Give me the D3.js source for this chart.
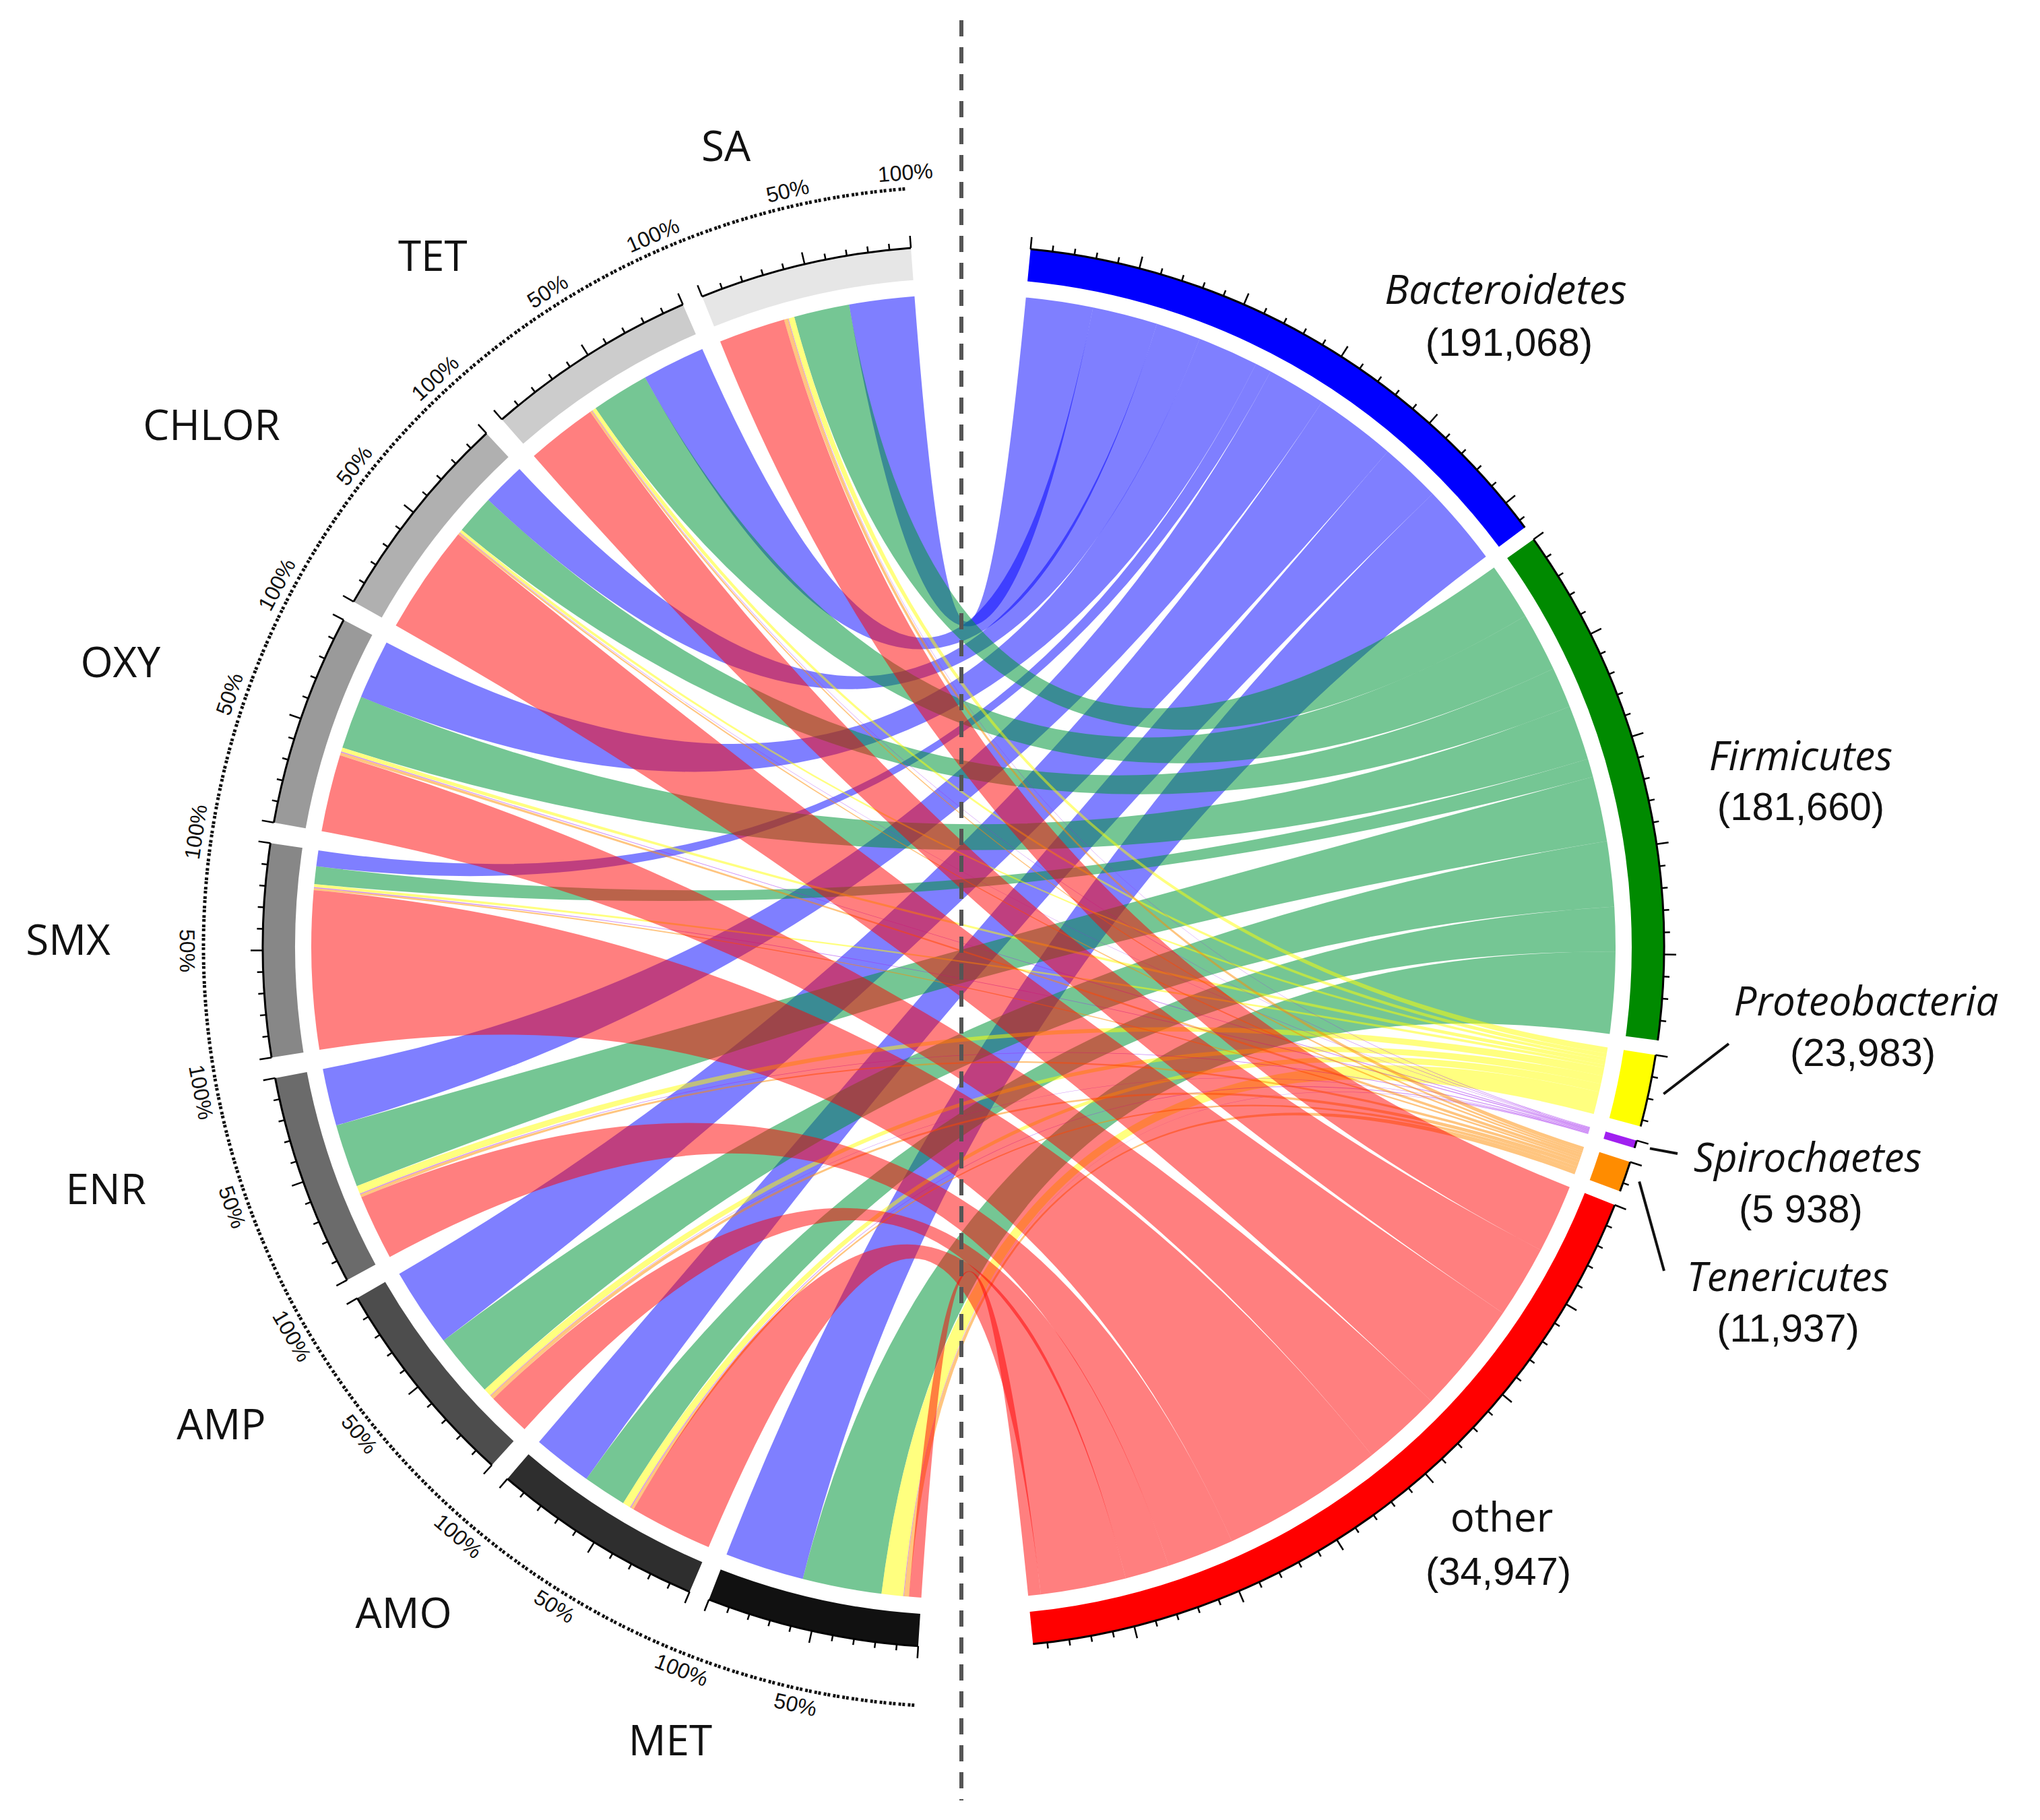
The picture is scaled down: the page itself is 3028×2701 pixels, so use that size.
<!DOCTYPE html>
<html>
<head>
<meta charset="utf-8">
<script src="https://cdn.jsdelivr.net/npm/d3@7"></script>
<style>
body {margin:0; background:#fff;}
</style>
</head>
<body>
<div id="chart"></div>
<script>
// antibiotic treatments (left half) and phyla (right half)
var antibiotics = ["SA", "TET", "CHLOR", "OXY", "SMX", "ENR", "AMP", "AMO", "MET"];
var phyla = ["Bacteroidetes", "Firmicutes", "Proteobacteria", "Spirochaetes", "Tenericutes", "other"];
var phylumCounts = ["191,068", "181,660", "23,983", "5 938", "11,937", "34,947"];
var pctLabels = ["50%", "100%"];

// share (%) of each treatment's reads per phylum, in the order of phyla
var pctSA    = [33, 28, 3,   0.3, 2,   33.7];
var pctTET   = [32, 29, 2,   0.3, 1,   35.7];
var pctCHLOR = [22, 20, 1.5, 0.3, 1,   55.2];
var pctOXY   = [30, 27, 2,   0.5, 1.5, 39];
var pctSMX   = [8,  9,  1.5, 0.5, 1,   80];
var pctENR   = [29, 32, 4,   0.5, 1.5, 33];
var pctAMP   = [40, 32, 4,   0.3, 2,   21.7];
var pctAMO   = [30, 22, 4,   0.5, 1.5, 42];
var pctMET   = [40, 40, 11,  0.3, 2.5, 6.2];

var matrix = [pctSA, pctTET, pctCHLOR, pctOXY, pctSMX, pctENR, pctAMP, pctAMO, pctMET];

// ---- layout ----
var W = 3028, H = 2701, cx = 1430, cy = 1405;
var R1 = 1040, R0 = 992, Rc = 968, Rdot = 1128, Rpct = 1152;
var rad = Math.PI / 180;
var leftStart = 183.7, leftEnd = 355.7, leftGap = 1.7;
var rightStart = 5.5, rightEnd = 174.3, rightGap = 1.2;

var grays = ["#e6e6e6", "#cccccc", "#b0b0b0", "#9a9a9a", "#878787", "#6b6b6b", "#4d4d4d", "#2e2e2e", "#111111"];
var bandColors = ["#0000ff", "#008a00", "#ffff00", "#a020f0", "#ff8c00", "#ff0000"];
var ribbonColors = ["#0000ff", "#00963a", "#ffff00", "#a020f0", "#ff8c00", "#ff0000"];
var ribbonAlpha = [0.5, 0.54, 0.5, 0.5, 0.5, 0.5];

// label placement (polar nudges for left names, anchors for right names)
var leftLabelPolar = [[-3.4,1241],[-5.1,1294],[-3.5,1359],[-0.3,1321],[0.8,1329],[3.9,1322],[6.2,1309],[8.3,1290],[7.8,1254]];
var phylumLabelAt = [
	{name:[2235,428],  count:[2240,507]},
	{name:[2673,1120], count:[2673,1196]},
	{name:[2770,1484], count:[2765,1561], leader:[2566,1549]},
	{name:[2683,1716], count:[2673,1793], leader:[2490,1712]},
	{name:[2654,1893], count:[2654,1970], leader:[2470,1886]},
	{name:[2229,2250], count:[2224,2331], upright:true}
];

function polar(deg, r) {
	return [cx + r*Math.sin(deg*rad), cy - r*Math.cos(deg*rad)];
}

// sector scales: left sectors equal (100%), laid clockwise MET..SA
var nA = antibiotics.length, nP = phyla.length;
var segLen = (leftEnd - leftStart - (nA-1)*leftGap) / nA;
var leftScale = antibiotics.map(function(a, i) {
	var k = nA - 1 - i;
	var a0 = leftStart + k*(segLen + leftGap);
	return d3.scaleLinear().domain([0, 100]).range([a0, a0 + segLen]);
});

var totals = phyla.map(function(p, j) { return d3.sum(matrix, function(row) {return row[j];}); });
var unit = (rightEnd - rightStart - (nP-1)*rightGap) / d3.sum(totals);
var rightScale = [], acc = 0;
for (var j = 0; j < nP; j++) {
	var a0 = rightStart + acc*unit + j*rightGap;
	rightScale.push(d3.scaleLinear().domain([0, totals[j]]).range([a0, a0 + totals[j]*unit]));
	acc += totals[j];
}

// links
var links = [];
for (var i = 0; i < nA; i++) {
	for (var j = 0; j < nP; j++) {
		var v = matrix[i][j];
		if (!v) continue;
		var offL = d3.sum(matrix[i].slice(j+1));
		var offR = 0;
		for (var m = 0; m < i; m++) offR += matrix[m][j];
		links.push({
			j: j,
			source: {startAngle: leftScale[i](offL)*rad, endAngle: leftScale[i](offL+v)*rad},
			target: {startAngle: rightScale[j](offR)*rad, endAngle: rightScale[j](offR+v)*rad}
		});
	}
}

var svg = d3.select("#chart").append("svg")
	.attr("width", W).attr("height", H)
	.style("font-family", "'Open Sans', sans-serif");
svg.append("rect").attr("width", W).attr("height", H).attr("fill", "#fff");

var g = svg.append("g").attr("transform", "translate(" + cx + "," + cy + ")");

// ribbons, drawn phylum by phylum
var ribbon = d3.ribbon().radius(Rc);
links.sort(function(a, b) {return a.j - b.j;});
g.append("g").selectAll("path").data(links).enter().append("path")
	.attr("d", ribbon)
	.attr("fill", function(d) {return ribbonColors[d.j];})
	.attr("fill-opacity", function(d) {return ribbonAlpha[d.j];});

// sector bands
var band = d3.arc().innerRadius(R0).outerRadius(R1);
var line = d3.arc().innerRadius(R1).outerRadius(R1);

function drawSector(scale, size, color) {
	var a0 = scale(0), a1 = scale(size);
	g.append("path").attr("d", band({startAngle: a0*rad, endAngle: a1*rad})).attr("fill", color);
	g.append("path").attr("d", line({startAngle: a0*rad, endAngle: a1*rad}))
		.attr("fill", "none").attr("stroke", "#000").attr("stroke-width", 3);
	var ticks = d3.range(0, size + 0.001, 10);
	g.append("g").selectAll("line").data(ticks).enter().append("line")
		.each(function(t) {
			var a = scale(t), len = (t % 50 === 0) ? 18 : 9;
			var p0 = polar(a, R1), p1 = polar(a, R1 + len);
			d3.select(this).attr("x1", p0[0]-cx).attr("y1", p0[1]-cy).attr("x2", p1[0]-cx).attr("y2", p1[1]-cy);
		})
		.attr("stroke", "#000").attr("stroke-width", 2.5);
}

antibiotics.forEach(function(a, i) { drawSector(leftScale[i], 100, grays[i]); });
phyla.forEach(function(p, j) { drawSector(rightScale[j], totals[j], bandColors[j]); });

// dotted percentage guide on the left
var dotArc = d3.arc().innerRadius(Rdot).outerRadius(Rdot);
g.append("path")
	.attr("d", dotArc({startAngle: leftStart*rad, endAngle: leftEnd*rad}))
	.attr("fill", "none").attr("stroke", "#111").attr("stroke-width", 5)
	.attr("stroke-dasharray", "4 10");

antibiotics.forEach(function(a, i) {
	[50, 100].forEach(function(v, k) {
		var ang = leftScale[i](v);
		var p = polar(ang, Rpct);
		var rot = ang > 270 ? ang - 360 : ang - 180;
		svg.append("text")
			.attr("transform", "translate(" + p[0] + "," + p[1] + ") rotate(" + rot + ")")
			.attr("text-anchor", "middle").attr("dominant-baseline", "central")
			.style("font-family", "'Liberation Sans', Arial, sans-serif")
			.style("font-size", "32px").attr("fill", "#111")
			.text(pctLabels[k]);
	});
});

// antibiotic names
antibiotics.forEach(function(a, i) {
	var mid = leftScale[i](50);
	var p = polar(mid + leftLabelPolar[i][0], leftLabelPolar[i][1]);
	svg.append("text").attr("x", p[0]).attr("y", p[1])
		.attr("text-anchor", "middle").attr("dominant-baseline", "central")
		.style("font-size", "62px").attr("fill", "#111").text(a);
});

// phylum names and read counts
phyla.forEach(function(p, j) {
	var L = phylumLabelAt[j];
	svg.append("text").attr("x", L.name[0]).attr("y", L.name[1])
		.attr("text-anchor", "middle").attr("dominant-baseline", "central")
		.style("font-size", "60px").style("font-style", L.upright ? "normal" : "italic")
		.attr("fill", "#111").text(p);
	svg.append("text").attr("x", L.count[0]).attr("y", L.count[1])
		.attr("text-anchor", "middle").attr("dominant-baseline", "central")
		.style("font-family", "'Liberation Sans', Arial, sans-serif")
		.style("font-size", "58px").attr("fill", "#111").text("(" + phylumCounts[j] + ")");
	if (L.leader) {
		var mid = rightScale[j](totals[j]/2);
		var s = polar(mid, R1 + 22);
		svg.append("line").attr("x1", s[0]).attr("y1", s[1]).attr("x2", L.leader[0]).attr("y2", L.leader[1])
			.attr("stroke", "#111").attr("stroke-width", 4);
	}
});

// dashed divider
svg.append("line").attr("x1", 1427).attr("x2", 1427).attr("y1", 30).attr("y2", 2672)
	.attr("stroke", "#555").attr("stroke-width", 6).attr("stroke-dasharray", "24 16");
</script>
</body>
</html>
